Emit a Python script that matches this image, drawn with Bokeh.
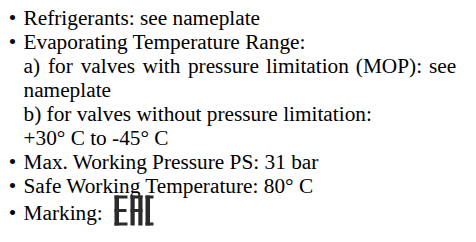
from bokeh.plotting import figure
from bokeh.models import Range1d
from bokeh.core.properties import value
from bokeh.embed import file_html
from bokeh.resources import INLINE

# ---- content ----
lines = [
    "Refrigerants: see nameplate",
    "Evaporating Temperature Range:",
    None,  # justified line (words below)
    "nameplate",
    "b) for valves without pressure limitation:",
    "+30\u00b0 C to -45\u00b0 C",
    "Max. Working Pressure PS: 31 bar",
    "Safe Working Temperature: 80\u00b0 C",
    "Marking:",
]
has_bullet = [True, True, False, False, False, False, True, True, True]
justified_words = ["a)", "for", "valves", "with", "pressure", "limitation", "(MOP):", "see"]
mark_letters = ["E", "A", "C"]

# ---- layout ----
W, H = 460, 226
FONT = value("Liberation Serif")
SIZE = "21.3px"
text_x = 23
bullet_x = 12
shift = 6  # rendered baseline sits a little below the anchor
baselines = [23.5, 47.5, 71.5, 95.5, 119.5, 143.5, 167.5, 191.5, 218.5]
word_x = [23, 47.5, 80.2, 142.0, 187.4, 265.6, 355.3, 428.5]

p = figure(width=W, height=H, output_backend="svg", toolbar_location=None,
           x_range=Range1d(0, W), y_range=Range1d(H, 0),
           min_border=0, outline_line_color=None, background_fill_color="white",
           border_fill_color="white")
p.axis.visible = False
p.grid.visible = False

xs, ys, ts = [], [], []
bx, by = [], []
for i, t in enumerate(lines):
    if t is not None:
        xs.append(text_x)
        ys.append(baselines[i] - shift)
        ts.append(t)
    if has_bullet[i]:
        bx.append(bullet_x)
        by.append(baselines[i] - shift)

p.text(x=xs, y=ys, text=ts, text_font=FONT, text_font_size=SIZE,
       text_baseline="alphabetic", text_align="left", text_color="black")
p.text(x=bx, y=by, text=["\u2022"] * len(bx), text_font=FONT, text_font_size=SIZE,
       text_baseline="alphabetic", text_align="center", text_color="black")

# justified line
p.text(x=word_x, y=[baselines[2] - shift] * len(justified_words), text=justified_words,
       text_font=FONT, text_font_size=SIZE, text_baseline="alphabetic",
       text_align="left", text_color="black")

# EAC mark drawn as blocks
top, bot = 195, 225
mid0, mid1 = 208.5, 211.5
th = 3.0
rects = {
    "E": [(114, 118.5, top, bot), (114, 127, top, top + th), (114, 126, mid0, mid1), (114, 127, bot - th, bot)],
    "A": [(130, 134.2, top, bot), (137.8, 142, top, bot), (130, 142, top, top + th), (130, 142, mid0, mid1)],
    "C": [(145, 149.5, top, bot), (145, 153, top, top + th), (145, 153, bot - th, bot)],
}
L, R, T, B = [], [], [], []
for letter in mark_letters:
    for (l, r, t, b) in rects[letter]:
        L.append(l); R.append(r); T.append(t); B.append(b)
p.quad(left=L, right=R, top=T, bottom=B, fill_color="#2b2b2b", line_color=None)

open("out.html", "w").write(file_html(p, INLINE))
